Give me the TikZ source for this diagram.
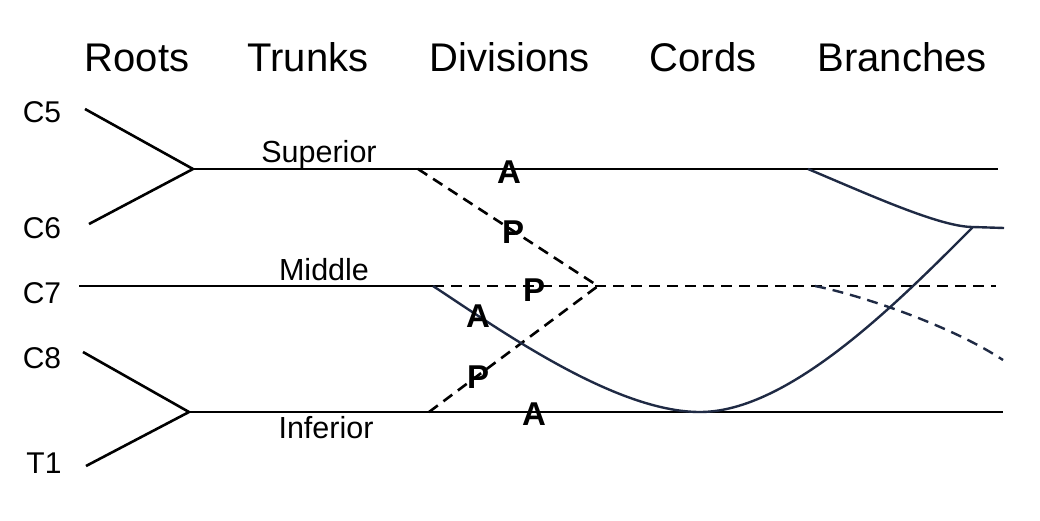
\documentclass[tikz,border=0pt]{standalone}
\usepackage{fontspec}
\setmainfont{Liberation Sans}
\definecolor{cordnavy}{RGB}{31,42,68}
\begin{document}
\begin{tikzpicture}[x=1pt,y=-1pt,
  nerve/.style={line width=2.6pt,draw=black},
  dnerve/.style={line width=2.6pt,draw=black,dash pattern=on 11pt off 7pt},
  cordline/.style={line width=2.4pt,draw=cordnavy},
  dcord/.style={line width=2.4pt,draw=cordnavy,dash pattern=on 11pt off 7pt},
  header/.style={inner sep=0pt,anchor=base,font=\fontsize{40}{48}\selectfont},
  rootlbl/.style={inner sep=0pt,anchor=base,font=\fontsize{30}{36}\selectfont},
  trunklbl/.style={inner sep=0pt,anchor=base,font=\fontsize{30.5}{36}\selectfont},
  aplbl/.style={inner sep=0pt,anchor=center,font=\fontsize{33}{40}\selectfont\bfseries}]
\useasboundingbox (0,0) rectangle (1040,520);

% headers
\node[header] (hRoots) at (137,71) {Roots};
\node[header] (hTrunks) at (308,71) {Trunks};
\node[header] (hDiv) at (510,71) {Divisions};
\node[header] (hCords) at (703,71) {Cords};
\node[header] (hBranch) at (902,71) {Branches};

% root labels
\node[rootlbl] (lC5) at (42,122) {C5};
\node[rootlbl] (lC6) at (42,238) {C6};
\node[rootlbl] (lC7) at (42,303) {C7};
\node[rootlbl] (lC8) at (42,368) {C8};
\node[rootlbl] (lT1) at (44,473) {T1};

% trunk labels
\node[trunklbl] (lSup) at (319,162) {Superior};
\node[trunklbl] (lMid) at (324,280) {Middle};
\node[trunklbl] (lInf) at (326,438) {Inferior};

% coordinates
\coordinate (c5) at (85,109);
\coordinate (c6) at (89,224);
\coordinate (c7) at (79,286);
\coordinate (c8) at (83,352);
\coordinate (t1) at (86,466);
\coordinate (supJ) at (193,169);
\coordinate (infJ) at (189,412);
\coordinate (supEnd) at (998,169);
\coordinate (midSplit) at (433,286);
\coordinate (midEnd) at (996,286);
\coordinate (infEnd) at (1003,412);
\coordinate (supDiv) at (418,169);
\coordinate (infDiv) at (429,412);
\coordinate (post) at (598,286);
\coordinate (bottom) at (700,412);
\coordinate (lat) at (973,227);
\coordinate (latEnd) at (1004,228);
\coordinate (supBr) at (808,169);
\coordinate (postBr) at (815,286);
\coordinate (postBrEnd) at (1003,360);

% roots and trunks
\draw[nerve] (c5) -- (supJ) -- (c6);
\draw[nerve] (supJ) -- (supEnd);
\draw[nerve] (c7) -- (midSplit);
\draw[dnerve] (midSplit) -- (midEnd);
\draw[nerve] (c8) -- (infJ) -- (t1);
\draw[nerve] (infJ) -- (infEnd);

% posterior divisions
\draw[dnerve] (supDiv) -- (post);
\draw[dnerve] (infDiv) -- (post);

% cords / branches
\draw[cordline] (midSplit) .. controls (500,330) and (615,412) .. (bottom);
\draw[cordline] (bottom) .. controls (790,412) and (900,300) .. (lat);
\draw[cordline] (supBr) .. controls (870,195) and (940,227) .. (lat);
\draw[cordline] (lat) -- (latEnd);
\draw[dcord] (postBr) .. controls (860,295) and (950,325) .. (postBrEnd);

% A / P labels
\node[aplbl] (a1) at (509,172) {A};
\node[aplbl] (p1) at (513,232) {P};
\node[aplbl] (p2) at (534,290) {P};
\node[aplbl] (a2) at (478,316) {A};
\node[aplbl] (p3) at (478,377) {P};
\node[aplbl] (a3) at (534,414) {A};
\end{tikzpicture}
\end{document}
